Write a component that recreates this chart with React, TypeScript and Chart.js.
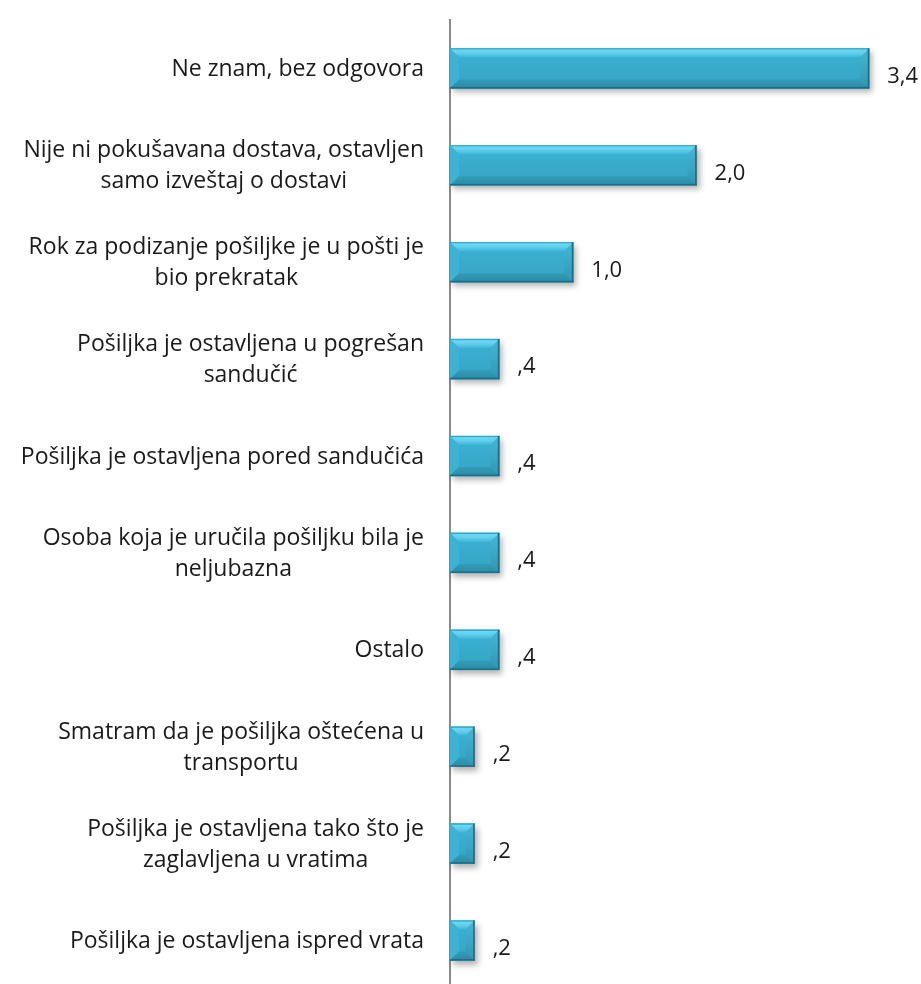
import React, { useEffect, useRef } from "react";
import { Chart, registerables } from "chart.js";

Chart.register(...registerables);

const categories: (string | string[])[] = [
  "Ne znam, bez odgovora",
  ["Nije ni pokušavana dostava, ostavljen", "samo izveštaj o dostavi"],
  ["Rok za podizanje pošiljke je u pošti je", "bio prekratak"],
  ["Pošiljka je ostavljena u pogrešan", "sandučić"],
  "Pošiljka je ostavljena pored sandučića",
  ["Osoba koja je uručila pošiljku bila je", "neljubazna"],
  "Ostalo",
  ["Smatram da je pošiljka oštećena u", "transportu"],
  ["Pošiljka je ostavljena tako što je", "zaglavljena u vratima"],
  "Pošiljka je ostavljena ispred vrata",
];

const values: number[] = [3.4, 2.0, 1.0, 0.4, 0.4, 0.4, 0.4, 0.2, 0.2, 0.2];

const FONT = '"Open Sans", "DejaVu Sans", sans-serif';

function fmt(v: number): string {
  let s = v.toFixed(1).replace(".", ",");
  if (s.startsWith("0,")) s = s.slice(1);
  return s;
}

const bevelPlugin = {
  id: "bevel",
  beforeDatasetsDraw(chart: any) {
    const ctx = chart.ctx;
    const meta = chart.getDatasetMeta(0);
    ctx.save();
    meta.data.forEach((bar: any) => {
      const x0 = bar.base;
      const x1 = bar.x;
      const yT = bar.y - bar.height / 2;
      ctx.shadowColor = "rgba(0,0,0,0.3)";
      ctx.shadowBlur = 6;
      ctx.shadowOffsetX = 3;
      ctx.shadowOffsetY = 4;
      ctx.fillStyle = "#38abcb";
      ctx.fillRect(x0, yT, x1 - x0, bar.height);
    });
    ctx.restore();
  },
  afterDatasetsDraw(chart: any) {
    const ctx = chart.ctx;
    const meta = chart.getDatasetMeta(0);
    ctx.save();
    meta.data.forEach((bar: any) => {
      const x0 = bar.base;
      const x1 = bar.x;
      const h = bar.height;
      const yT = bar.y - h / 2;
      const yB = yT + h;
      const b = Math.min(9, (x1 - x0) / 2);
      // center
      const gC = ctx.createLinearGradient(0, yT, 0, yB);
      gC.addColorStop(0, "#3cb2d2");
      gC.addColorStop(1, "#34a4c4");
      ctx.fillStyle = gC;
      ctx.fillRect(x0, yT, x1 - x0, h);
      // top bevel
      const gT = ctx.createLinearGradient(0, yT, 0, yT + b);
      gT.addColorStop(0, "#6fdaf4");
      gT.addColorStop(0.5, "#62d0ee");
      gT.addColorStop(1, "#3fb6d6");
      ctx.fillStyle = gT;
      ctx.beginPath();
      ctx.moveTo(x0, yT);
      ctx.lineTo(x1, yT);
      ctx.lineTo(x1 - b, yT + b);
      ctx.lineTo(x0 + b, yT + b);
      ctx.closePath();
      ctx.fill();
      // left bevel
      ctx.fillStyle = "#3cb3d3";
      ctx.beginPath();
      ctx.moveTo(x0, yT);
      ctx.lineTo(x0 + b, yT + b);
      ctx.lineTo(x0 + b, yB - b);
      ctx.lineTo(x0, yB);
      ctx.closePath();
      ctx.fill();
      // right bevel
      const gR = ctx.createLinearGradient(0, yT, 0, yB);
      gR.addColorStop(0, "#44b8d6");
      gR.addColorStop(1, "#2f97b4");
      ctx.fillStyle = gR;
      ctx.beginPath();
      ctx.moveTo(x1, yT);
      ctx.lineTo(x1, yB);
      ctx.lineTo(x1 - b, yB - b);
      ctx.lineTo(x1 - b, yT + b);
      ctx.closePath();
      ctx.fill();
      // bottom bevel
      const gB = ctx.createLinearGradient(0, yB - b, 0, yB);
      gB.addColorStop(0, "#339cb9");
      gB.addColorStop(1, "#2b8ba6");
      ctx.fillStyle = gB;
      ctx.beginPath();
      ctx.moveTo(x0, yB);
      ctx.lineTo(x1, yB);
      ctx.lineTo(x1 - b, yB - b);
      ctx.lineTo(x0 + b, yB - b);
      ctx.closePath();
      ctx.fill();
      // edges
      ctx.fillStyle = "#2fa0c0";
      ctx.fillRect(x0, yT, x1 - x0, 1);
      ctx.fillStyle = "#1f6d84";
      ctx.fillRect(x0, yB - 1.5, x1 - x0, 1.5);
      ctx.fillRect(x1 - 1.5, yT, 1.5, h);
    });
    ctx.restore();
  },
  afterDraw(chart: any) {
    const ctx = chart.ctx;
    const yScale = chart.scales.y;
    const meta = chart.getDatasetMeta(0);
    ctx.save();
    ctx.font = `23px ${FONT}`;
    ctx.fillStyle = "#1a1a1a";
    ctx.textBaseline = "middle";
    ctx.textAlign = "center";
    const right = chart.chartArea.left - 26;
    const lh = 31;
    categories.forEach((lab, i) => {
      const lines = Array.isArray(lab) ? lab : [lab];
      const maxW = Math.max(...lines.map((l) => ctx.measureText(l).width));
      const cx = right - maxW / 2;
      const yc = yScale.getPixelForValue(i) + 1;
      const y0 = yc - ((lines.length - 1) * lh) / 2;
      lines.forEach((l, k) => ctx.fillText(l, cx, y0 + k * lh));
    });
    ctx.font = `22px ${FONT}`;
    ctx.textAlign = "left";
    meta.data.forEach((bar: any, i: number) => {
      ctx.fillText(fmt(values[i]), bar.x + 18, bar.y + 8);
    });
    ctx.restore();
  },
};

export default function App() {
  const ref = useRef<HTMLCanvasElement | null>(null);
  useEffect(() => {
    if (!ref.current) return;
    const chart = new Chart(ref.current, {
      type: "bar",
      data: {
        labels: categories as any,
        datasets: [
          {
            data: values,
            backgroundColor: "#38abcb",
            borderWidth: 0,
            barThickness: 40,
          },
        ],
      },
      options: {
        indexAxis: "y",
        animation: false,
        responsive: true,
        maintainAspectRatio: false,
        layout: { padding: { top: 20, left: 0, right: 0, bottom: 0 } },
        plugins: {
          legend: { display: false },
          tooltip: { enabled: false },
        },
        scales: {
          x: { display: false, min: 0, max: 3.82 },
          y: {
            ticks: { display: false },
            grid: { display: false },
            border: { display: true, color: "#8a8a8a", width: 2 },
            afterFit: (scale: any) => {
              scale.width = 450;
            },
          },
        },
      },
      plugins: [bevelPlugin],
    });
    return () => chart.destroy();
  }, []);
  return (
    <div style={{ position: "absolute", left: 0, top: 0, width: 921, height: 989, background: "#fff" }}>
      <canvas ref={ref} />
    </div>
  );
}
